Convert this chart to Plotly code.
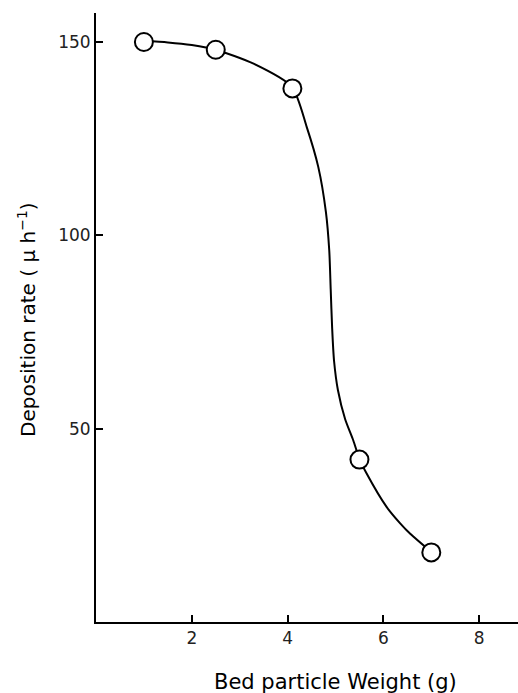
import plotly.graph_objects as go

# Measured points
weight_g = [1.0, 2.5, 4.1, 5.5, 7.0]
deposition_rate = [150, 148, 138, 42, 18]

# Hand-drawn fitted curve, sampled from the figure
curve_x = [1.0, 1.5, 2.0, 2.5, 3.29, 4.09, 4.40, 4.64, 4.80, 4.87, 4.90,
           4.93, 4.97, 5.05, 5.20, 5.37, 5.5, 5.65, 6.07, 6.35, 6.56, 7.0]
curve_y = [150.3, 149.9, 149.2, 148, 144.4, 138.4, 128, 117.7, 106, 96, 86,
           76, 67.5, 60, 52.5, 47.0, 42.2, 38.4, 29.7, 25.5, 22.8, 18.1]

x_ticks = [2, 4, 6, 8]
y_ticks = [50, 100, 150]

fig = go.Figure()
fig.add_trace(go.Scatter(x=curve_x, y=curve_y, mode="lines",
                         line=dict(color="black", width=2, shape="spline", smoothing=0.7),
                         hoverinfo="skip", showlegend=False))
fig.add_trace(go.Scatter(x=weight_g, y=deposition_rate, mode="markers",
                         marker=dict(symbol="circle", size=18, color="white",
                                     line=dict(color="black", width=2)),
                         showlegend=False))

fig.update_layout(
    width=518, height=693,
    margin=dict(l=96, r=0, t=13, b=71),
    plot_bgcolor="white", paper_bgcolor="white",
    font=dict(family="DejaVu Sans", color="black"),
    xaxis=dict(range=[0, 8.81], tickvals=x_ticks, ticktext=[str(v) for v in x_ticks],
               ticks="inside", ticklen=7, tickwidth=1.5, tickcolor="black",
               showline=True, linecolor="black", linewidth=2, showgrid=False,
               zeroline=False, tickfont=dict(size=17, family="DejaVu Sans", color="#222")),
    yaxis=dict(range=[0, 157.5], tickvals=y_ticks, ticktext=[str(v) for v in y_ticks],
               ticks="inside", ticklen=7, tickwidth=1.5, tickcolor="black",
               showline=True, linecolor="black", linewidth=2, showgrid=False,
               zeroline=False, tickfont=dict(size=17, family="DejaVu Sans", color="#222")),
)

fig.add_annotation(text="Bed particle Weight (g)", xref="paper", yref="paper",
                   x=(335 - 96) / 422, y=-(682 - 622) / 609, xanchor="center", yanchor="middle",
                   showarrow=False, font=dict(size=21, family="DejaVu Sans", color="black"))
fig.add_annotation(text="Deposition rate ( \u00b5 h<sup>\u22121</sup>)", xref="paper", yref="paper",
                   x=-(96 - 27) / 422, y=(622 - 320) / 609, xanchor="center", yanchor="middle",
                   textangle=-90, showarrow=False,
                   font=dict(size=20, family="DejaVu Sans", color="black"))

fig.write_html("out.html")
